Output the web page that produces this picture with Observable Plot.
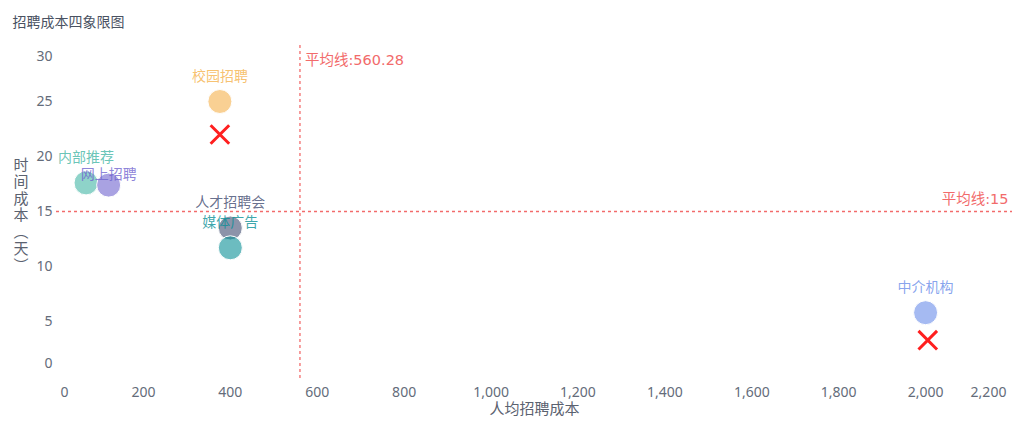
<!DOCTYPE html>
<html><head><meta charset="utf-8">
<script src="https://cdn.jsdelivr.net/npm/d3@7"></script>
<script src="https://cdn.jsdelivr.net/npm/@observablehq/plot@0.6"></script>
<style>body{margin:0;background:#fff;}</style>
</head><body><div id="chart"></div>
<script>
const channels = ["内部推荐","网上招聘","校园招聘","人才招聘会","媒体广告","中介机构"];
const avgCost  = [68, 120, 376, 400, 400, 2000];
const timeCost = [17.6, 17.4, 25, 13.5, 11.7, 5.8];
const colors   = ["#43b6a5","#7064cf","#f5b14b","#3f4b70","#0a8f96","#698ce9"];
const markerCost = [376, 2005];
const markerTime = [22, 3.3];
const meanCost = 560.28;
const meanTime = 15;
const xTicks = [0,200,400,600,800,1000,1200,1400,1600,1800,2000,2200];
const yTicks = [0,5,10,15,20,25,30];
const title = "招聘成本四象限图";
const xTitle = "人均招聘成本";
const yTitle = "时间成本(天)";

const data = channels.map((c, i) => ({name: c, cost: avgCost[i], time: timeCost[i], color: colors[i]}));
const markers = markerCost.map((c, i) => ({cost: c, time: markerTime[i]}));
const fmt = d3.format(",");
const tickColor = "#646c7a";
const redLine = "#f26b6b";
const meanFont = '"DejaVu Sans","Noto Sans CJK SC",sans-serif';
const vertTitle = Array.from(yTitle).map(ch => ch === "(" ? "︵" : ch === ")" ? "︶" : ch).join("\n");

const chart = Plot.plot({
  width: 1024,
  height: 442,
  marginTop: 45,
  marginBottom: 62,
  marginLeft: 56,
  marginRight: 12,
  style: {fontFamily: '"Noto Sans","Noto Sans CJK SC",sans-serif', fontSize: "14px", background: "#fff"},
  x: {domain: [0, 2200], axis: null},
  y: {domain: [0, 30], axis: null, insetTop: 1, insetBottom: 4},
  color: {type: "identity"},
  marks: [
    // x axis
    Plot.axisX(xTicks.slice(1, -1), {tickSize: 0, tickPadding: 7, tickFormat: fmt, fill: tickColor, fontSize: 14, label: null}),
    Plot.axisX([xTicks[0]], {tickSize: 0, tickPadding: 7, tickFormat: fmt, fill: tickColor, fontSize: 14, dx: 8, label: null}),
    Plot.axisX([xTicks[xTicks.length - 1]], {tickSize: 0, tickPadding: 7, tickFormat: fmt, fill: tickColor, fontSize: 14, dx: -24, label: null}),
    // y axis
    Plot.axisY(yTicks.slice(1, -1), {tickSize: 0, tickPadding: 4, fill: tickColor, fontSize: 14, label: null}),
    Plot.axisY([yTicks[0]], {tickSize: 0, tickPadding: 4, fill: tickColor, fontSize: 14, dy: -13, label: null}),
    Plot.axisY([yTicks[yTicks.length - 1]], {tickSize: 0, tickPadding: 4, fill: tickColor, fontSize: 14, dy: 10, label: null}),
    // titles
    Plot.text([xTitle], {frameAnchor: "bottom", dy: 33, text: d => d, fill: "#5b6270", fontSize: 15}),
    Plot.text([vertTitle], {frameAnchor: "left", dx: -43, dy: 2, text: d => d, fill: "#5b6270", fontSize: 15, lineHeight: 1.12}),
    Plot.text([title], {frameAnchor: "top-left", dx: -44, dy: -28, text: d => d, fill: "#4a5262", fontSize: 14, textAnchor: "start"}),
    // mean lines
    Plot.ruleX([meanCost], {stroke: redLine, strokeDasharray: "3,3", strokeWidth: 1.3}),
    Plot.ruleY([meanTime], {stroke: redLine, strokeDasharray: "3,3", strokeWidth: 1.3}),
    Plot.text([meanCost], {x: d => d, frameAnchor: "top", text: d => "平均线:" + d, textAnchor: "start", dx: 5, dy: 9, fill: redLine, fontSize: 14.5, fontFamily: meanFont}),
    Plot.text([meanTime], {y: d => d, frameAnchor: "right", text: d => "平均线:" + d, textAnchor: "end", dx: -4, dy: -12, fill: redLine, fontSize: 14.5, fontFamily: meanFont}),
    // bubbles
    Plot.dot(data, {x: "cost", y: "time", r: 12, fill: "color", fillOpacity: 0.6, stroke: "#fff", strokeWidth: 1}),
    Plot.dot(markers, {x: "cost", y: "time", symbol: "times", r: 8.5, stroke: "#ff1f1f", strokeWidth: 3}),
    Plot.text(data.filter(d => d.name !== "网上招聘"), {x: "cost", y: "time", text: "name", dy: -25, fill: "color", fillOpacity: 0.8, fontSize: 14}),
    Plot.text(data.filter(d => d.name === "网上招聘"), {x: "cost", y: "time", text: "name", dy: -11, fill: "color", fillOpacity: 0.8, fontSize: 14})
  ]
});
document.getElementById("chart").appendChild(chart);
</script></body></html>
